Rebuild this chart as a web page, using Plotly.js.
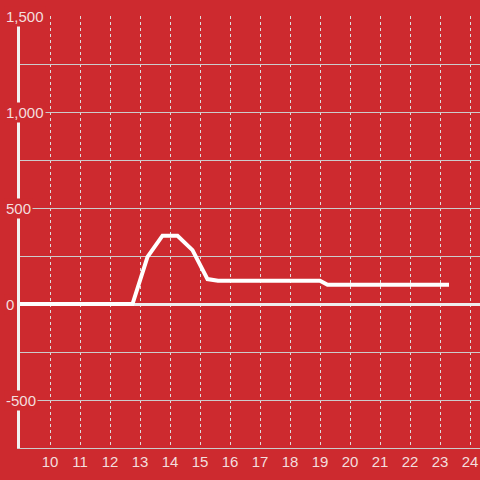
<!DOCTYPE html>
<html>
<head>
<meta charset="utf-8">
<script src="https://cdn.plot.ly/plotly-3.0.1.min.js"></script>
<style>html,body{margin:0;padding:0;background:#cd2a2f;}#chart{width:480px;height:480px;}</style>
</head>
<body>
<div id="chart"></div>
<script>
// Data
const xValues = [9, 12.75, 13.25, 13.75, 14.25, 14.75, 15.25, 15.6, 19.0, 19.25, 23.3];
const yValues = [0, 0, 246, 356, 356, 281, 130, 121, 121, 100, 100];
const xTickVals = [10, 11, 12, 13, 14, 15, 16, 17, 18, 19, 20, 21, 22, 23, 24];
const yGridVals = [-500, -250, 0, 250, 500, 750, 1000, 1250, 1500];
const yLabelVals = [-500, 0, 500, 1000, 1500];
const yLabelText = ['-500', '0', '500', '1,000', '1,500'];

const BG = '#cd2a2f';
const TXT = '#f3dede';
const FONT = 'Liberation Sans, Arial, sans-serif';

const annotations = yLabelVals.map((v, i) => ({
  xref: 'paper', yref: 'y',
  x: -16 / 460, y: v,
  xanchor: 'left', yanchor: 'middle',
  text: yLabelText[i],
  showarrow: false,
  bgcolor: BG,
  borderpad: 1,
  font: {family: FONT, size: 15, color: TXT}
}));

const trace = {
  x: xValues, y: yValues,
  type: 'scatter', mode: 'lines',
  line: {color: '#ffffff', width: 4},
  hoverinfo: 'skip'
};

const layout = {
  width: 480, height: 480,
  margin: {l: 20, r: 0, t: 16, b: 32, pad: 0},
  paper_bgcolor: BG, plot_bgcolor: BG,
  showlegend: false,
  xaxis: {
    range: [9, 24 + 10/30],
    tickmode: 'array', tickvals: xTickVals,
    ticks: '', showgrid: true, gridcolor: '#dddddd', gridwidth: 1, griddash: 'dot',
    showline: true, linecolor: '#cccccc', linewidth: 1,
    zeroline: false,
    tickfont: {family: FONT, size: 15, color: TXT}
  },
  yaxis: {
    range: [-750, 1500.5],
    tickmode: 'array', tickvals: yGridVals,
    showticklabels: false, ticks: '',
    showgrid: true, gridcolor: '#cccccc', gridwidth: 1,
    zeroline: true, zerolinecolor: '#eeeeee', zerolinewidth: 3,
    showline: true, linecolor: '#f2f2f2', linewidth: 3
  },
  annotations: annotations
};

Plotly.newPlot('chart', [trace], layout, {displayModeBar: false, staticPlot: true});
</script>
</body>
</html>
